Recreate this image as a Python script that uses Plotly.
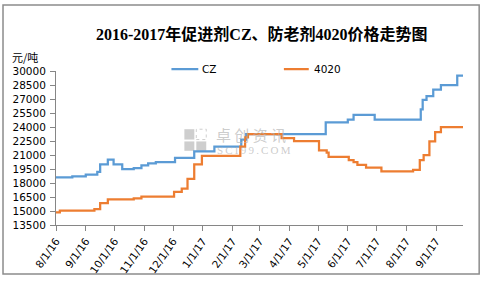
import plotly.graph_objects as go

cz_dates = ["2016-08-01", "2016-08-18", "2016-09-01", "2016-09-13", "2016-09-16", "2016-09-24",
            "2016-09-30", "2016-10-09", "2016-10-21", "2016-10-29", "2016-11-05", "2016-11-13",
            "2016-12-03", "2016-12-23", "2017-01-13", "2017-02-10", "2017-02-15", "2017-05-09",
            "2017-06-01", "2017-06-07", "2017-06-29", "2017-08-16", "2017-08-18", "2017-08-22",
            "2017-08-29", "2017-09-06", "2017-09-23", "2017-09-29"]
cz_values = [18600, 18700, 18900, 19200, 20000, 20500,
             20000, 19500, 19600, 19900, 20100, 20250,
             20700, 21400, 21900, 22650, 23250, 24500,
             24800, 25300, 24800, 25900, 26900, 27300,
             28000, 28500, 29500, 29500]

a4020_dates = ["2016-08-01", "2016-08-05", "2016-09-10", "2016-09-16", "2016-09-24", "2016-10-21",
               "2016-10-29", "2016-12-02", "2016-12-10", "2016-12-16", "2016-12-23", "2016-12-31",
               "2017-02-09", "2017-02-14", "2017-02-17", "2017-03-24", "2017-04-06", "2017-05-02",
               "2017-05-10", "2017-05-12", "2017-06-02", "2017-06-07", "2017-06-11", "2017-06-20",
               "2017-07-06", "2017-08-08", "2017-08-15", "2017-08-19", "2017-08-25", "2017-08-31",
               "2017-09-06", "2017-09-29"]
a4020_values = [14850, 15050, 15200, 15850, 16250, 16350,
                16550, 17050, 17400, 18450, 20000, 20900,
                21900, 22900, 23250, 22800, 22500, 21500,
                21250, 20800, 20450, 20250, 19950, 19650,
                19250, 19400, 20450, 21000, 22450, 23450,
                24000, 24000]

tick_dates = ["2016-08-01", "2016-09-01", "2016-10-01", "2016-11-01", "2016-12-01", "2017-01-01",
              "2017-02-01", "2017-03-01", "2017-04-01", "2017-05-01", "2017-06-01", "2017-07-01",
              "2017-08-01", "2017-09-01"]
tick_labels = ["8/1/16", "9/1/16", "10/1/16", "11/1/16", "12/1/16", "1/1/17", "2/1/17", "3/1/17",
               "4/1/17", "5/1/17", "6/1/17", "7/1/17", "8/1/17", "9/1/17"]
y_ticks = [13500, 15000, 16500, 18000, 19500, 21000, 22500, 24000, 25500, 27000, 28500, 30000]
y_labels = [str(v) for v in y_ticks]

fig = go.Figure()
fig.add_trace(go.Scatter(x=cz_dates, y=cz_values, mode="lines", name="CZ",
                         line=dict(color="#5B9BD5", width=2.25, shape="hv")))
fig.add_trace(go.Scatter(x=a4020_dates, y=a4020_values, mode="lines", name="4020",
                         line=dict(color="#ED7D31", width=2.25, shape="hv")))

axis_font = dict(family="DejaVu Sans, Verdana, sans-serif", size=10.5, color="#000000")

PW, PH = 409.0, 164.0  # plot area size in px
def px(x):
    return (x - 54) / PW
def py(y):
    return (235 - y) / PH

fig.update_layout(
    width=480, height=288,
    margin=dict(l=54, r=17, t=71, b=53),
    paper_bgcolor="white", plot_bgcolor="white",
    showlegend=False,
    xaxis=dict(range=["2016-08-01", "2017-09-29"], tickmode="array", tickvals=tick_dates,
               ticktext=tick_labels, tickangle=-55, ticks="outside", ticklen=5,
               tickcolor="#868686", showline=True, linecolor="#868686", linewidth=1,
               showgrid=False, zeroline=False, tickfont=axis_font),
    yaxis=dict(range=[13500, 30000], tickmode="array", tickvals=y_ticks, ticktext=y_labels,
               ticks="outside", ticklen=5, tickcolor="#868686", showline=True,
               linecolor="#868686", linewidth=1, showgrid=False, zeroline=False,
               tickfont=axis_font, ticklabelstandoff=2),
)

wm = "rgba(190,190,190,0.75)"
shapes = [
    dict(type="rect", xref="paper", yref="paper", x0=px(0.75), x1=px(479.25), y0=py(287.25), y1=py(0.75),
         line=dict(color="#8C8C8C", width=1.5), fillcolor="rgba(0,0,0,0)"),
    dict(type="line", xref="paper", yref="paper", x0=px(170), x1=px(197),
         y0=py(69), y1=py(69), line=dict(color="#5B9BD5", width=2.25)),
    dict(type="line", xref="paper", yref="paper", x0=px(283), x1=px(308),
         y0=py(69), y1=py(69), line=dict(color="#ED7D31", width=2.25)),
    # watermark logo squares
    dict(type="rect", xref="paper", yref="paper", x0=px(183), x1=px(193), y0=py(144), y1=py(133),
         line=dict(width=0), fillcolor=wm, layer="below"),
    dict(type="rect", xref="paper", yref="paper", x0=px(183), x1=px(193), y0=py(156), y1=py(146),
         line=dict(width=0), fillcolor=wm, layer="below"),
    dict(type="rect", xref="paper", yref="paper", x0=px(195), x1=px(205), y0=py(156), y1=py(146),
         line=dict(width=0), fillcolor=wm, layer="below"),
    dict(type="rect", xref="paper", yref="paper", x0=px(195), x1=px(205), y0=py(144), y1=py(133),
         line=dict(color=wm, width=1, dash="dot"), fillcolor="rgba(0,0,0,0)", layer="below"),
]
fig.update_layout(shapes=shapes)

ann = [
    dict(text="<b>2016-2017年促进剂CZ、防老剂4020价格走势图</b>", x=px(261), y=py(32),
         xref="paper", yref="paper", showarrow=False, xanchor="center", yanchor="middle",
         font=dict(family="Liberation Serif, Noto Sans CJK SC", size=16, color="#000000")),
    dict(text="元/吨", x=px(8), y=py(56), xref="paper", yref="paper", showarrow=False,
         xanchor="left", yanchor="middle",
         font=dict(family="Noto Sans CJK SC", size=11, color="#000000")),
    dict(text="CZ", x=px(199), y=py(69), xref="paper", yref="paper", showarrow=False,
         xanchor="left", yanchor="middle", font=axis_font),
    dict(text="4020", x=px(311), y=py(69), xref="paper", yref="paper", showarrow=False,
         xanchor="left", yanchor="middle", font=axis_font),
    dict(text="卓 创 资 讯", x=px(213), y=py(139), xref="paper", yref="paper",
         showarrow=False, xanchor="left", yanchor="middle",
         font=dict(family="Noto Sans CJK SC", size=15, color="rgba(175,175,175,0.65)")),
    dict(text="\u2009".join("SCI99.COM"), x=px(214), y=py(155), xref="paper", yref="paper",
         showarrow=False, xanchor="left", yanchor="middle",
         font=dict(family="Liberation Serif", size=11, color="rgba(175,175,175,0.65)")),
]
fig.update_layout(annotations=ann)

fig.write_html("out.html")
